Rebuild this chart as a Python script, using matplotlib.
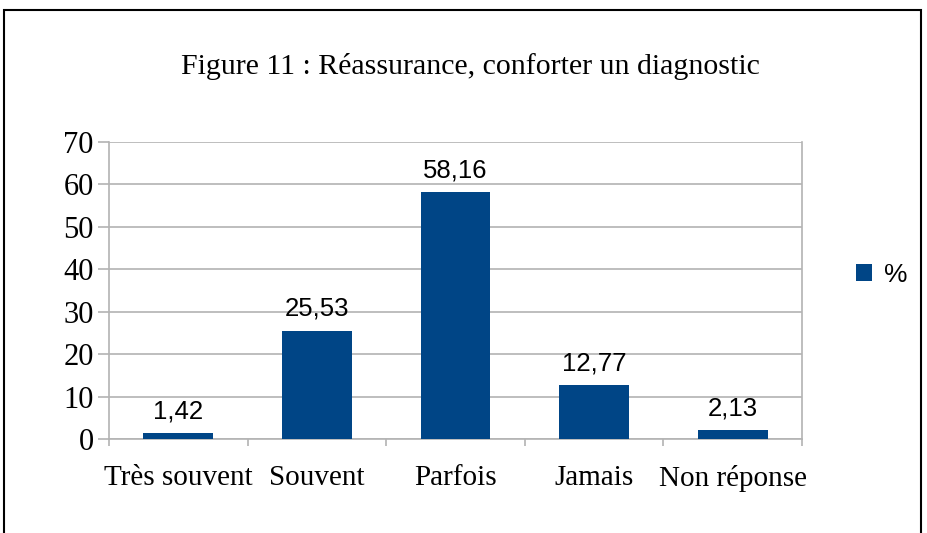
import matplotlib.pyplot as plt
from matplotlib.patches import Rectangle
from matplotlib.ticker import FixedLocator

CATEGORIES = ["Très souvent", "Souvent", "Parfois", "Jamais", "Non réponse"]
VALUES = [1.42, 25.53, 58.16, 12.77, 2.13]
LABELS = ["1,42", "25,53", "58,16", "12,77", "2,13"]
SERIES = "%"

BAR = "#004586"
GRID = "#b3b3b3"
SERIF = "Liberation Serif"
SANS = "Liberation Sans"

fig = plt.figure(figsize=(9.27, 5.33), dpi=100)
fig.patches.append(Rectangle((4 / 927, -0.05), 917 / 927, 1.05 - 10 / 533,
                             transform=fig.transFigure, fill=False,
                             edgecolor="black", linewidth=1.5))

ax = fig.add_axes([109 / 927, 1 - 439 / 533, 693 / 927, 297 / 533])
x = range(len(CATEGORIES))
bars = ax.bar(x, VALUES, width=0.505, color=BAR, label=SERIES, zorder=3)
for b, lab in zip(bars, LABELS):
    ax.annotate(lab, (b.get_x() + b.get_width() / 2, b.get_height()),
                xytext=(0, 7), textcoords="offset points", ha="center",
                va="bottom", fontsize=18.5, family=SANS)

ax.set_xlim(-0.5, len(CATEGORIES) - 0.5)
ax.set_ylim(0, 70)
ax.set_yticks(range(0, 71, 10))
ax.yaxis.grid(True, color=GRID, linewidth=1.2, zorder=0)
ax.tick_params(axis="y", length=8, color=GRID, width=1.2, pad=3,
               labelsize=22)
ax.set_xticks(list(x))
ax.set_xticklabels(CATEGORIES)
ax.tick_params(axis="x", which="major", length=0, pad=19, labelsize=21)
ax.xaxis.set_minor_locator(FixedLocator([i - 0.5 for i in range(len(CATEGORIES) + 1)]))
ax.tick_params(axis="x", which="minor", length=5, color=GRID, width=1.2)
for lab in ax.get_xticklabels() + ax.get_yticklabels():
    lab.set_family(SERIF)
ax.spines["top"].set_visible(False)
for s in ("left", "bottom", "right"):
    ax.spines[s].set_color(GRID)
    ax.spines[s].set_linewidth(1.2)

fig.text(470 / 927, 1 - 67 / 533, "Figure 11 : Réassurance, conforter un diagnostic",
         ha="center", va="center", fontsize=21.5, family=SERIF)

fig.legend(loc="center left", bbox_to_anchor=(856 / 927, 1 - 275 / 533),
           frameon=False, prop={"family": SANS, "size": 19}, borderpad=0,
           borderaxespad=0, handlelength=0.6, handleheight=0.6,
           handletextpad=0.45)

fig.savefig("out.png", dpi=100)
